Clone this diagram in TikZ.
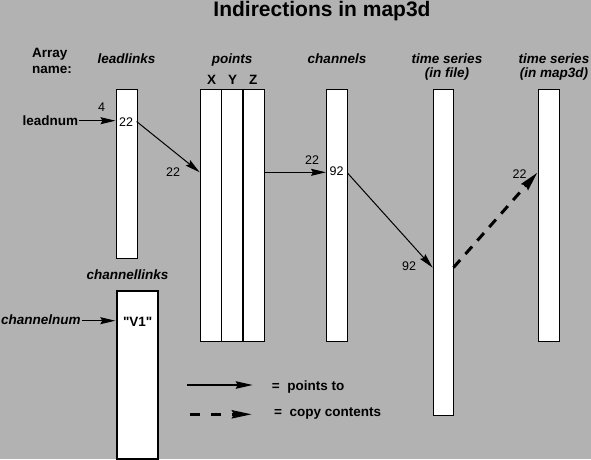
\documentclass[tikz,border=0pt]{standalone}
\usepackage{fontspec}
\setmainfont{Liberation Sans}
\newfontfamily\qfont{Liberation Sans}
\usetikzlibrary{arrows.meta}
\definecolor{bg}{gray}{0.7}
\begin{document}
\begin{tikzpicture}[x=1pt,y=-1pt,
 lbl/.style={font=\fontsize{13.5}{15}\selectfont\bfseries, inner sep=0, anchor=base},
 ilbl/.style={font=\fontsize{13.5}{15}\selectfont\bfseries\itshape, inner sep=0, anchor=base},
 num/.style={font=\fontsize{12.5}{14}\selectfont, inner sep=0, anchor=base},
 col/.style={draw, fill=white, line width=1pt, inner sep=0, anchor=north west},
 ptr/.style={-{Stealth[length=15pt,width=7pt,inset=2pt]}, line width=1pt},
 cpy/.style={-{Stealth[length=19pt,width=9pt,inset=2pt]}, line width=3pt, dash pattern=on 10pt off 8pt},
]
\fill[bg] (0,0) rectangle (591,459);
\useasboundingbox (0,0) rectangle (591,459);
\clip (0,0) rectangle (591,459);

% title
\node[font=\fontsize{21}{24}\selectfont\bfseries, inner sep=0, anchor=base] (title) at (322,16.5) {Indirections in map3d};

% column headers
\node[lbl, anchor=base west] (arr1) at (32,57.5) {Array};
\node[lbl, anchor=base west] (arr2) at (32,73) {name:};
\node[ilbl] (hlead) at (126.5,63.3) {leadlinks};
\node[ilbl] (hpts) at (232,63.3) {points};
\node[lbl] (hx) at (211.7,84.3) {X};
\node[lbl] (hy) at (232.7,84.3) {Y};
\node[lbl] (hz) at (253.3,84.3) {Z};
\node[ilbl] (hchan) at (337,63.3) {channels};
\node[ilbl] (hts1) at (447,63.3) {time series};
\node[ilbl] (hts1b) at (447,77.5) {(in file)};
\node[ilbl] (hts2) at (554,63.3) {time series};
\node[ilbl] (hts2b) at (554,77.5) {(in map3d)};
\node[ilbl] (hcl) at (127.5,279.3) {channellinks};

% columns
\node[col, minimum width=20.6pt, minimum height=169pt] (lead) at (116,88.5) {};
\node[col, minimum width=63.6pt, minimum height=252.5pt] (pts) at (200,88.5) {};
\draw[line width=1pt] (221.7,88.5) -- (221.7,341);
\draw[line width=1.6pt] (242.7,88.5) -- (242.7,341);
\node[col, minimum width=21pt, minimum height=252.8pt] (chan) at (326.2,88.5) {};
\node[col, minimum width=20.6pt, minimum height=326.8pt] (tsf) at (432.8,88.5) {};
\node[col, minimum width=21pt, minimum height=252.8pt] (tsm) at (537.5,88.5) {};
\node[col, line width=2pt, minimum width=40.7pt, minimum height=168pt] (clinks) at (116,290) {};

% entries
\node[lbl] (leadnum) at (50.3,125.7) {leadnum};
\node[num] (n4) at (101.7,111.7) {4};
\node[num] (v22a) at (126.2,126) {22};
\node[num] (l22a) at (173,176) {22};
\node[num] (l22b) at (312,164) {22};
\node[num] (v92) at (336.5,175.5) {92};
\node[num] (l92) at (409,270) {92};
\node[num] (l22c) at (519.5,178.3) {22};
\node[ilbl] (chnum) at (40.8,324) {channelnum};
\node[lbl, font=\fontsize{13.5}{15}\selectfont\qfont\bfseries] (v1) at (137.7,326) {"V1"};

% anchor coordinates on column edges
\coordinate (leadIn) at (115.5,120.7);
\coordinate (leadOut) at (136.6,121.5);
\coordinate (ptsIn) at (199.7,172.3);
\coordinate (ptsOut) at (263.5,172.3);
\coordinate (chanIn) at (326,172.3);
\coordinate (chanOut) at (347.5,173);
\coordinate (tsfIn) at (432.7,267.7);
\coordinate (tsfOut) at (453.5,267.5);
\coordinate (tsmIn) at (537.3,172.7);
\coordinate (clIn) at (115.3,320.7);

% pointers
\draw[ptr] (leadnum.east |- leadIn) ++(1,0) -- (leadIn);
\draw[ptr] (leadOut) -- (ptsIn);
\draw[ptr] (ptsOut) -- (chanIn);
\draw[ptr] (chanOut) -- (tsfIn);
\draw[cpy] (tsfOut) -- (tsmIn);
\draw[ptr] (chnum.east |- clIn) ++(1,0) -- (clIn);

% legend
\coordinate (lg1a) at (187.3,385);
\coordinate (lg1b) at (252.7,385);
\coordinate (lg2a) at (190,414.3);
\coordinate (lg2b) at (252,414.3);
\draw[-{Stealth[length=17pt,width=7.5pt,inset=2pt]}, line width=1.3pt] (lg1a) -- (lg1b);
\draw[-{Stealth[length=20pt,width=8pt,inset=2pt]}, line width=3pt, dash pattern=on 10pt off 11pt] (lg2a) -- (lg2b);
\node[lbl, anchor=base west] (leg1) at (271.7,390) {=~~points to};
\node[lbl, anchor=base west] (leg2) at (274,416.5) {=~~copy contents};
\end{tikzpicture}
\end{document}
